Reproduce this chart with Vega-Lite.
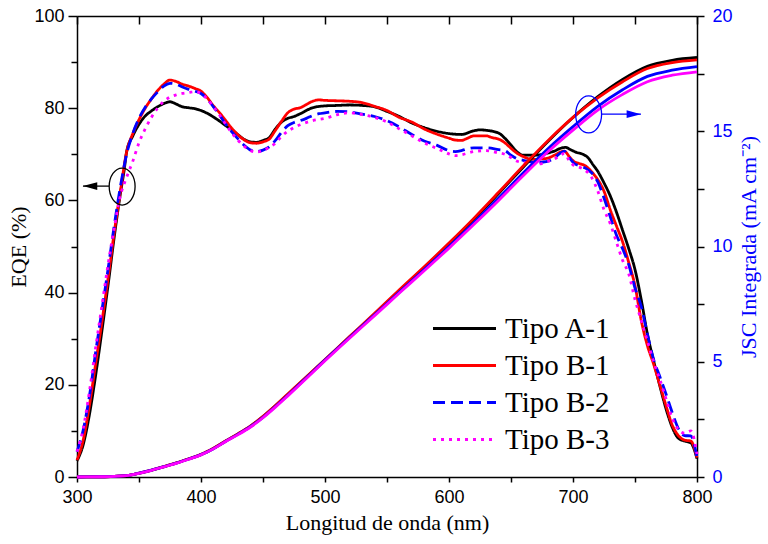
{
  "$schema": "https://vega.github.io/schema/vega-lite/v6.json",
  "width": 620,
  "height": 461,
  "autosize": "none",
  "padding": {"left": 77, "top": 16, "right": 71, "bottom": 67},
  "background": "white",
  "datasets": {
    "eqe": [
      {"s":"Tipo A-1","w":300,"v":3.5},{"s":"Tipo A-1","w":305,"v":7.0},{"s":"Tipo A-1","w":310,"v":13.5},{"s":"Tipo A-1","w":315,"v":22},{"s":"Tipo A-1","w":320,"v":31.5},{"s":"Tipo A-1","w":325,"v":41.5},{"s":"Tipo A-1","w":330,"v":52},{"s":"Tipo A-1","w":335,"v":61.5},{"s":"Tipo A-1","w":338,"v":66.5},{"s":"Tipo A-1","w":340,"v":70.5},{"s":"Tipo A-1","w":345,"v":74},{"s":"Tipo A-1","w":350,"v":76.5},{"s":"Tipo A-1","w":355,"v":78.3},{"s":"Tipo A-1","w":360,"v":79.4},{"s":"Tipo A-1","w":365,"v":80.3},{"s":"Tipo A-1","w":370,"v":81},{"s":"Tipo A-1","w":375,"v":81.4},{"s":"Tipo A-1","w":380,"v":80.9},{"s":"Tipo A-1","w":385,"v":80.3},{"s":"Tipo A-1","w":390,"v":80.1},{"s":"Tipo A-1","w":395,"v":79.9},{"s":"Tipo A-1","w":400,"v":79.5},{"s":"Tipo A-1","w":405,"v":78.9},{"s":"Tipo A-1","w":410,"v":78.1},{"s":"Tipo A-1","w":415,"v":77.2},{"s":"Tipo A-1","w":420,"v":76.2},{"s":"Tipo A-1","w":425,"v":75.3},{"s":"Tipo A-1","w":430,"v":74.2},{"s":"Tipo A-1","w":435,"v":73.2},{"s":"Tipo A-1","w":440,"v":72.7},{"s":"Tipo A-1","w":445,"v":72.6},{"s":"Tipo A-1","w":450,"v":73},{"s":"Tipo A-1","w":455,"v":73.6},{"s":"Tipo A-1","w":460,"v":75.5},{"s":"Tipo A-1","w":465,"v":77},{"s":"Tipo A-1","w":470,"v":77.8},{"s":"Tipo A-1","w":475,"v":78.2},{"s":"Tipo A-1","w":480,"v":78.8},{"s":"Tipo A-1","w":490,"v":80.1},{"s":"Tipo A-1","w":500,"v":80.5},{"s":"Tipo A-1","w":510,"v":80.6},{"s":"Tipo A-1","w":520,"v":80.7},{"s":"Tipo A-1","w":530,"v":80.6},{"s":"Tipo A-1","w":540,"v":80.3},{"s":"Tipo A-1","w":550,"v":79.3},{"s":"Tipo A-1","w":560,"v":78.2},{"s":"Tipo A-1","w":570,"v":76.8},{"s":"Tipo A-1","w":580,"v":75.8},{"s":"Tipo A-1","w":590,"v":75},{"s":"Tipo A-1","w":600,"v":74.5},{"s":"Tipo A-1","w":610,"v":74.3},{"s":"Tipo A-1","w":620,"v":75.1},{"s":"Tipo A-1","w":625,"v":75.3},{"s":"Tipo A-1","w":630,"v":75.2},{"s":"Tipo A-1","w":640,"v":74.6},{"s":"Tipo A-1","w":645,"v":73.5},{"s":"Tipo A-1","w":650,"v":72},{"s":"Tipo A-1","w":655,"v":70.5},{"s":"Tipo A-1","w":660,"v":69.8},{"s":"Tipo A-1","w":670,"v":69.8},{"s":"Tipo A-1","w":680,"v":70.3},{"s":"Tipo A-1","w":685,"v":70.7},{"s":"Tipo A-1","w":690,"v":71.3},{"s":"Tipo A-1","w":694,"v":71.5},{"s":"Tipo A-1","w":698,"v":71},{"s":"Tipo A-1","w":703,"v":70.4},{"s":"Tipo A-1","w":708,"v":70},{"s":"Tipo A-1","w":712,"v":69.3},{"s":"Tipo A-1","w":716,"v":67.8},{"s":"Tipo A-1","w":720,"v":66.3},{"s":"Tipo A-1","w":725,"v":63.8},{"s":"Tipo A-1","w":730,"v":61},{"s":"Tipo A-1","w":735,"v":57.5},{"s":"Tipo A-1","w":740,"v":53.5},{"s":"Tipo A-1","w":745,"v":49.5},{"s":"Tipo A-1","w":750,"v":45},{"s":"Tipo A-1","w":755,"v":38.5},{"s":"Tipo A-1","w":760,"v":31},{"s":"Tipo A-1","w":765,"v":25.2},{"s":"Tipo A-1","w":770,"v":19.8},{"s":"Tipo A-1","w":775,"v":14.8},{"s":"Tipo A-1","w":780,"v":10.8},{"s":"Tipo A-1","w":785,"v":8.4},{"s":"Tipo A-1","w":790,"v":7.8},{"s":"Tipo A-1","w":795,"v":7.4},{"s":"Tipo A-1","w":800,"v":4.0},
      {"s":"Tipo B-1","w":300,"v":3.7},{"s":"Tipo B-1","w":305,"v":8},{"s":"Tipo B-1","w":310,"v":15.5},{"s":"Tipo B-1","w":315,"v":24.5},{"s":"Tipo B-1","w":320,"v":33.5},{"s":"Tipo B-1","w":325,"v":43},{"s":"Tipo B-1","w":330,"v":53},{"s":"Tipo B-1","w":335,"v":62},{"s":"Tipo B-1","w":340,"v":70.5},{"s":"Tipo B-1","w":345,"v":74.5},{"s":"Tipo B-1","w":350,"v":77.5},{"s":"Tipo B-1","w":355,"v":80},{"s":"Tipo B-1","w":360,"v":82},{"s":"Tipo B-1","w":365,"v":83.8},{"s":"Tipo B-1","w":370,"v":85.2},{"s":"Tipo B-1","w":375,"v":86.1},{"s":"Tipo B-1","w":380,"v":85.8},{"s":"Tipo B-1","w":385,"v":85.2},{"s":"Tipo B-1","w":390,"v":84.8},{"s":"Tipo B-1","w":395,"v":84.3},{"s":"Tipo B-1","w":400,"v":83.7},{"s":"Tipo B-1","w":405,"v":82.3},{"s":"Tipo B-1","w":410,"v":80.5},{"s":"Tipo B-1","w":415,"v":79},{"s":"Tipo B-1","w":420,"v":77.3},{"s":"Tipo B-1","w":425,"v":75.6},{"s":"Tipo B-1","w":430,"v":74.2},{"s":"Tipo B-1","w":435,"v":73.1},{"s":"Tipo B-1","w":440,"v":72.5},{"s":"Tipo B-1","w":445,"v":72.4},{"s":"Tipo B-1","w":450,"v":72.7},{"s":"Tipo B-1","w":455,"v":73.3},{"s":"Tipo B-1","w":460,"v":75.2},{"s":"Tipo B-1","w":465,"v":77.2},{"s":"Tipo B-1","w":470,"v":79},{"s":"Tipo B-1","w":475,"v":79.8},{"s":"Tipo B-1","w":480,"v":80.1},{"s":"Tipo B-1","w":485,"v":80.8},{"s":"Tipo B-1","w":490,"v":81.5},{"s":"Tipo B-1","w":495,"v":81.8},{"s":"Tipo B-1","w":500,"v":81.7},{"s":"Tipo B-1","w":510,"v":81.6},{"s":"Tipo B-1","w":520,"v":81.5},{"s":"Tipo B-1","w":530,"v":81.2},{"s":"Tipo B-1","w":540,"v":80.4},{"s":"Tipo B-1","w":550,"v":79.5},{"s":"Tipo B-1","w":560,"v":78},{"s":"Tipo B-1","w":570,"v":77},{"s":"Tipo B-1","w":580,"v":75.5},{"s":"Tipo B-1","w":590,"v":74.4},{"s":"Tipo B-1","w":600,"v":73.5},{"s":"Tipo B-1","w":605,"v":73.1},{"s":"Tipo B-1","w":610,"v":73},{"s":"Tipo B-1","w":615,"v":73.5},{"s":"Tipo B-1","w":620,"v":74},{"s":"Tipo B-1","w":630,"v":74},{"s":"Tipo B-1","w":635,"v":73.6},{"s":"Tipo B-1","w":640,"v":73.3},{"s":"Tipo B-1","w":645,"v":72.5},{"s":"Tipo B-1","w":650,"v":71.3},{"s":"Tipo B-1","w":655,"v":70.2},{"s":"Tipo B-1","w":660,"v":69.5},{"s":"Tipo B-1","w":665,"v":69},{"s":"Tipo B-1","w":670,"v":68.9},{"s":"Tipo B-1","w":675,"v":69},{"s":"Tipo B-1","w":680,"v":69.2},{"s":"Tipo B-1","w":685,"v":69.8},{"s":"Tipo B-1","w":690,"v":70.5},{"s":"Tipo B-1","w":693,"v":70.7},{"s":"Tipo B-1","w":697,"v":69.5},{"s":"Tipo B-1","w":701,"v":68.4},{"s":"Tipo B-1","w":705,"v":68},{"s":"Tipo B-1","w":710,"v":67.5},{"s":"Tipo B-1","w":715,"v":66.2},{"s":"Tipo B-1","w":720,"v":64.5},{"s":"Tipo B-1","w":725,"v":62},{"s":"Tipo B-1","w":730,"v":58},{"s":"Tipo B-1","w":735,"v":54.5},{"s":"Tipo B-1","w":740,"v":51},{"s":"Tipo B-1","w":745,"v":46.5},{"s":"Tipo B-1","w":750,"v":41.5},{"s":"Tipo B-1","w":755,"v":34},{"s":"Tipo B-1","w":760,"v":28.5},{"s":"Tipo B-1","w":765,"v":24.5},{"s":"Tipo B-1","w":770,"v":20},{"s":"Tipo B-1","w":775,"v":15.5},{"s":"Tipo B-1","w":780,"v":11.3},{"s":"Tipo B-1","w":785,"v":9},{"s":"Tipo B-1","w":790,"v":8},{"s":"Tipo B-1","w":795,"v":7.8},{"s":"Tipo B-1","w":800,"v":4.2},
      {"s":"Tipo B-2","w":300,"v":5.5},{"s":"Tipo B-2","w":305,"v":10.2},{"s":"Tipo B-2","w":310,"v":17.5},{"s":"Tipo B-2","w":315,"v":27},{"s":"Tipo B-2","w":320,"v":36},{"s":"Tipo B-2","w":325,"v":45},{"s":"Tipo B-2","w":330,"v":54.5},{"s":"Tipo B-2","w":335,"v":63},{"s":"Tipo B-2","w":340,"v":70},{"s":"Tipo B-2","w":345,"v":74.5},{"s":"Tipo B-2","w":350,"v":77.8},{"s":"Tipo B-2","w":355,"v":80.2},{"s":"Tipo B-2","w":360,"v":82},{"s":"Tipo B-2","w":365,"v":83.5},{"s":"Tipo B-2","w":370,"v":84.8},{"s":"Tipo B-2","w":375,"v":85.4},{"s":"Tipo B-2","w":380,"v":85.2},{"s":"Tipo B-2","w":385,"v":84.6},{"s":"Tipo B-2","w":390,"v":84.1},{"s":"Tipo B-2","w":395,"v":83.7},{"s":"Tipo B-2","w":400,"v":83.2},{"s":"Tipo B-2","w":405,"v":82},{"s":"Tipo B-2","w":410,"v":80.3},{"s":"Tipo B-2","w":415,"v":78.5},{"s":"Tipo B-2","w":420,"v":76.5},{"s":"Tipo B-2","w":425,"v":74.8},{"s":"Tipo B-2","w":430,"v":73.3},{"s":"Tipo B-2","w":435,"v":71.9},{"s":"Tipo B-2","w":440,"v":70.9},{"s":"Tipo B-2","w":445,"v":70.6},{"s":"Tipo B-2","w":450,"v":70.9},{"s":"Tipo B-2","w":455,"v":71.6},{"s":"Tipo B-2","w":460,"v":73},{"s":"Tipo B-2","w":465,"v":74.8},{"s":"Tipo B-2","w":470,"v":76.2},{"s":"Tipo B-2","w":475,"v":76.9},{"s":"Tipo B-2","w":480,"v":77.3},{"s":"Tipo B-2","w":485,"v":77.8},{"s":"Tipo B-2","w":490,"v":78.4},{"s":"Tipo B-2","w":495,"v":78.8},{"s":"Tipo B-2","w":500,"v":79},{"s":"Tipo B-2","w":510,"v":79.3},{"s":"Tipo B-2","w":520,"v":79.2},{"s":"Tipo B-2","w":530,"v":78.7},{"s":"Tipo B-2","w":540,"v":78.2},{"s":"Tipo B-2","w":550,"v":77.3},{"s":"Tipo B-2","w":560,"v":75.9},{"s":"Tipo B-2","w":570,"v":74.3},{"s":"Tipo B-2","w":580,"v":72.9},{"s":"Tipo B-2","w":590,"v":72},{"s":"Tipo B-2","w":600,"v":70.8},{"s":"Tipo B-2","w":605,"v":70.6},{"s":"Tipo B-2","w":610,"v":70.8},{"s":"Tipo B-2","w":615,"v":71.2},{"s":"Tipo B-2","w":620,"v":71.4},{"s":"Tipo B-2","w":630,"v":71.4},{"s":"Tipo B-2","w":640,"v":71},{"s":"Tipo B-2","w":645,"v":70.8},{"s":"Tipo B-2","w":650,"v":69.8},{"s":"Tipo B-2","w":655,"v":69},{"s":"Tipo B-2","w":660,"v":68.7},{"s":"Tipo B-2","w":665,"v":68.4},{"s":"Tipo B-2","w":670,"v":68.2},{"s":"Tipo B-2","w":675,"v":68.3},{"s":"Tipo B-2","w":680,"v":68.5},{"s":"Tipo B-2","w":685,"v":69.2},{"s":"Tipo B-2","w":690,"v":70.3},{"s":"Tipo B-2","w":693,"v":70.7},{"s":"Tipo B-2","w":697,"v":69.3},{"s":"Tipo B-2","w":701,"v":68},{"s":"Tipo B-2","w":705,"v":67.5},{"s":"Tipo B-2","w":710,"v":67},{"s":"Tipo B-2","w":715,"v":66},{"s":"Tipo B-2","w":720,"v":64},{"s":"Tipo B-2","w":725,"v":60.5},{"s":"Tipo B-2","w":730,"v":56.5},{"s":"Tipo B-2","w":735,"v":52.5},{"s":"Tipo B-2","w":740,"v":49.5},{"s":"Tipo B-2","w":745,"v":46},{"s":"Tipo B-2","w":750,"v":41},{"s":"Tipo B-2","w":755,"v":37},{"s":"Tipo B-2","w":760,"v":31},{"s":"Tipo B-2","w":765,"v":25.5},{"s":"Tipo B-2","w":770,"v":21.8},{"s":"Tipo B-2","w":775,"v":18},{"s":"Tipo B-2","w":780,"v":14},{"s":"Tipo B-2","w":785,"v":10.5},{"s":"Tipo B-2","w":790,"v":9},{"s":"Tipo B-2","w":795,"v":8.9},{"s":"Tipo B-2","w":800,"v":4.2},
      {"s":"Tipo B-3","w":300,"v":5.5},{"s":"Tipo B-3","w":305,"v":10.5},{"s":"Tipo B-3","w":310,"v":18.5},{"s":"Tipo B-3","w":315,"v":28},{"s":"Tipo B-3","w":320,"v":37},{"s":"Tipo B-3","w":325,"v":46},{"s":"Tipo B-3","w":330,"v":54},{"s":"Tipo B-3","w":335,"v":61},{"s":"Tipo B-3","w":340,"v":65},{"s":"Tipo B-3","w":345,"v":68.5},{"s":"Tipo B-3","w":350,"v":72.5},{"s":"Tipo B-3","w":355,"v":75.5},{"s":"Tipo B-3","w":360,"v":78},{"s":"Tipo B-3","w":365,"v":80},{"s":"Tipo B-3","w":370,"v":81.5},{"s":"Tipo B-3","w":375,"v":82.4},{"s":"Tipo B-3","w":380,"v":82.9},{"s":"Tipo B-3","w":385,"v":83.2},{"s":"Tipo B-3","w":390,"v":83.4},{"s":"Tipo B-3","w":395,"v":83.6},{"s":"Tipo B-3","w":400,"v":83.2},{"s":"Tipo B-3","w":405,"v":82},{"s":"Tipo B-3","w":410,"v":80.3},{"s":"Tipo B-3","w":415,"v":78.5},{"s":"Tipo B-3","w":420,"v":76.5},{"s":"Tipo B-3","w":425,"v":74.6},{"s":"Tipo B-3","w":430,"v":73},{"s":"Tipo B-3","w":435,"v":71.7},{"s":"Tipo B-3","w":440,"v":70.8},{"s":"Tipo B-3","w":445,"v":70.5},{"s":"Tipo B-3","w":450,"v":70.8},{"s":"Tipo B-3","w":455,"v":71.5},{"s":"Tipo B-3","w":460,"v":72.4},{"s":"Tipo B-3","w":465,"v":73.9},{"s":"Tipo B-3","w":470,"v":75},{"s":"Tipo B-3","w":475,"v":75.8},{"s":"Tipo B-3","w":480,"v":76.4},{"s":"Tipo B-3","w":490,"v":77.3},{"s":"Tipo B-3","w":500,"v":77.8},{"s":"Tipo B-3","w":510,"v":78.6},{"s":"Tipo B-3","w":520,"v":79},{"s":"Tipo B-3","w":530,"v":78.6},{"s":"Tipo B-3","w":540,"v":78},{"s":"Tipo B-3","w":550,"v":77},{"s":"Tipo B-3","w":560,"v":75.5},{"s":"Tipo B-3","w":570,"v":74},{"s":"Tipo B-3","w":580,"v":72.5},{"s":"Tipo B-3","w":590,"v":71.3},{"s":"Tipo B-3","w":600,"v":70.1},{"s":"Tipo B-3","w":605,"v":69.7},{"s":"Tipo B-3","w":610,"v":69.9},{"s":"Tipo B-3","w":620,"v":70.6},{"s":"Tipo B-3","w":630,"v":70.8},{"s":"Tipo B-3","w":640,"v":70.3},{"s":"Tipo B-3","w":645,"v":70},{"s":"Tipo B-3","w":650,"v":69.3},{"s":"Tipo B-3","w":655,"v":68.5},{"s":"Tipo B-3","w":660,"v":68.2},{"s":"Tipo B-3","w":670,"v":67.9},{"s":"Tipo B-3","w":675,"v":68},{"s":"Tipo B-3","w":680,"v":68.5},{"s":"Tipo B-3","w":685,"v":69},{"s":"Tipo B-3","w":690,"v":69.8},{"s":"Tipo B-3","w":693,"v":70.2},{"s":"Tipo B-3","w":697,"v":68.6},{"s":"Tipo B-3","w":701,"v":67.5},{"s":"Tipo B-3","w":705,"v":67.2},{"s":"Tipo B-3","w":710,"v":66.5},{"s":"Tipo B-3","w":715,"v":65},{"s":"Tipo B-3","w":720,"v":62},{"s":"Tipo B-3","w":725,"v":58},{"s":"Tipo B-3","w":730,"v":55},{"s":"Tipo B-3","w":735,"v":51},{"s":"Tipo B-3","w":740,"v":47},{"s":"Tipo B-3","w":745,"v":44},{"s":"Tipo B-3","w":750,"v":38.5},{"s":"Tipo B-3","w":755,"v":34},{"s":"Tipo B-3","w":760,"v":29.5},{"s":"Tipo B-3","w":765,"v":25},{"s":"Tipo B-3","w":770,"v":21.2},{"s":"Tipo B-3","w":775,"v":17},{"s":"Tipo B-3","w":780,"v":12.8},{"s":"Tipo B-3","w":785,"v":10.3},{"s":"Tipo B-3","w":790,"v":9.5},{"s":"Tipo B-3","w":795,"v":10},{"s":"Tipo B-3","w":800,"v":5}
    ],
    "jsc": [
      {"s":"Tipo A-1","w":300,"j":0},{"s":"Tipo A-1","w":320,"j":0.01},{"s":"Tipo A-1","w":330,"j":0.03},{"s":"Tipo A-1","w":340,"j":0.06},{"s":"Tipo A-1","w":350,"j":0.16},{"s":"Tipo A-1","w":360,"j":0.29},{"s":"Tipo A-1","w":370,"j":0.44},{"s":"Tipo A-1","w":380,"j":0.6},{"s":"Tipo A-1","w":390,"j":0.78},{"s":"Tipo A-1","w":400,"j":0.97},{"s":"Tipo A-1","w":410,"j":1.24},{"s":"Tipo A-1","w":420,"j":1.56},{"s":"Tipo A-1","w":430,"j":1.87},{"s":"Tipo A-1","w":440,"j":2.21},{"s":"Tipo A-1","w":450,"j":2.62},{"s":"Tipo A-1","w":460,"j":3.09},{"s":"Tipo A-1","w":470,"j":3.58},{"s":"Tipo A-1","w":480,"j":4.08},{"s":"Tipo A-1","w":490,"j":4.58},{"s":"Tipo A-1","w":500,"j":5.08},{"s":"Tipo A-1","w":520,"j":6.08},{"s":"Tipo A-1","w":540,"j":7.07},{"s":"Tipo A-1","w":560,"j":8.08},{"s":"Tipo A-1","w":580,"j":9.08},{"s":"Tipo A-1","w":600,"j":10.1},{"s":"Tipo A-1","w":620,"j":11.17},{"s":"Tipo A-1","w":640,"j":12.3},{"s":"Tipo A-1","w":660,"j":13.45},{"s":"Tipo A-1","w":680,"j":14.57},{"s":"Tipo A-1","w":700,"j":15.6},{"s":"Tipo A-1","w":720,"j":16.5},{"s":"Tipo A-1","w":740,"j":17.25},{"s":"Tipo A-1","w":760,"j":17.82},{"s":"Tipo A-1","w":780,"j":18.08},{"s":"Tipo A-1","w":800,"j":18.2},
      {"s":"Tipo B-1","w":300,"j":0},{"s":"Tipo B-1","w":320,"j":0.01},{"s":"Tipo B-1","w":330,"j":0.03},{"s":"Tipo B-1","w":340,"j":0.06},{"s":"Tipo B-1","w":350,"j":0.17},{"s":"Tipo B-1","w":360,"j":0.3},{"s":"Tipo B-1","w":370,"j":0.45},{"s":"Tipo B-1","w":380,"j":0.61},{"s":"Tipo B-1","w":390,"j":0.79},{"s":"Tipo B-1","w":400,"j":0.98},{"s":"Tipo B-1","w":410,"j":1.25},{"s":"Tipo B-1","w":420,"j":1.57},{"s":"Tipo B-1","w":430,"j":1.88},{"s":"Tipo B-1","w":440,"j":2.22},{"s":"Tipo B-1","w":450,"j":2.63},{"s":"Tipo B-1","w":460,"j":3.1},{"s":"Tipo B-1","w":470,"j":3.6},{"s":"Tipo B-1","w":480,"j":4.1},{"s":"Tipo B-1","w":490,"j":4.6},{"s":"Tipo B-1","w":500,"j":5.1},{"s":"Tipo B-1","w":520,"j":6.1},{"s":"Tipo B-1","w":540,"j":7.1},{"s":"Tipo B-1","w":560,"j":8.12},{"s":"Tipo B-1","w":580,"j":9.12},{"s":"Tipo B-1","w":600,"j":10.15},{"s":"Tipo B-1","w":620,"j":11.22},{"s":"Tipo B-1","w":640,"j":12.35},{"s":"Tipo B-1","w":660,"j":13.5},{"s":"Tipo B-1","w":680,"j":14.6},{"s":"Tipo B-1","w":700,"j":15.6},{"s":"Tipo B-1","w":720,"j":16.45},{"s":"Tipo B-1","w":740,"j":17.15},{"s":"Tipo B-1","w":760,"j":17.72},{"s":"Tipo B-1","w":780,"j":17.98},{"s":"Tipo B-1","w":800,"j":18.1},
      {"s":"Tipo B-2","w":300,"j":0},{"s":"Tipo B-2","w":320,"j":0.01},{"s":"Tipo B-2","w":330,"j":0.03},{"s":"Tipo B-2","w":340,"j":0.06},{"s":"Tipo B-2","w":350,"j":0.17},{"s":"Tipo B-2","w":360,"j":0.3},{"s":"Tipo B-2","w":370,"j":0.45},{"s":"Tipo B-2","w":380,"j":0.6},{"s":"Tipo B-2","w":390,"j":0.78},{"s":"Tipo B-2","w":400,"j":0.97},{"s":"Tipo B-2","w":410,"j":1.23},{"s":"Tipo B-2","w":420,"j":1.55},{"s":"Tipo B-2","w":430,"j":1.86},{"s":"Tipo B-2","w":440,"j":2.19},{"s":"Tipo B-2","w":450,"j":2.59},{"s":"Tipo B-2","w":460,"j":3.06},{"s":"Tipo B-2","w":470,"j":3.55},{"s":"Tipo B-2","w":480,"j":4.05},{"s":"Tipo B-2","w":490,"j":4.56},{"s":"Tipo B-2","w":500,"j":5.07},{"s":"Tipo B-2","w":520,"j":6.06},{"s":"Tipo B-2","w":540,"j":7.04},{"s":"Tipo B-2","w":560,"j":8.02},{"s":"Tipo B-2","w":580,"j":9.0},{"s":"Tipo B-2","w":600,"j":10.0},{"s":"Tipo B-2","w":620,"j":11.03},{"s":"Tipo B-2","w":640,"j":12.1},{"s":"Tipo B-2","w":660,"j":13.2},{"s":"Tipo B-2","w":680,"j":14.25},{"s":"Tipo B-2","w":700,"j":15.2},{"s":"Tipo B-2","w":720,"j":16.08},{"s":"Tipo B-2","w":740,"j":16.8},{"s":"Tipo B-2","w":760,"j":17.38},{"s":"Tipo B-2","w":780,"j":17.65},{"s":"Tipo B-2","w":800,"j":17.8},
      {"s":"Tipo B-3","w":300,"j":0},{"s":"Tipo B-3","w":320,"j":0.01},{"s":"Tipo B-3","w":330,"j":0.03},{"s":"Tipo B-3","w":340,"j":0.06},{"s":"Tipo B-3","w":350,"j":0.16},{"s":"Tipo B-3","w":360,"j":0.29},{"s":"Tipo B-3","w":370,"j":0.44},{"s":"Tipo B-3","w":380,"j":0.59},{"s":"Tipo B-3","w":390,"j":0.77},{"s":"Tipo B-3","w":400,"j":0.96},{"s":"Tipo B-3","w":410,"j":1.22},{"s":"Tipo B-3","w":420,"j":1.54},{"s":"Tipo B-3","w":430,"j":1.84},{"s":"Tipo B-3","w":440,"j":2.17},{"s":"Tipo B-3","w":450,"j":2.57},{"s":"Tipo B-3","w":460,"j":3.03},{"s":"Tipo B-3","w":470,"j":3.52},{"s":"Tipo B-3","w":480,"j":4.02},{"s":"Tipo B-3","w":490,"j":4.53},{"s":"Tipo B-3","w":500,"j":5.04},{"s":"Tipo B-3","w":520,"j":6.03},{"s":"Tipo B-3","w":540,"j":7.0},{"s":"Tipo B-3","w":560,"j":7.98},{"s":"Tipo B-3","w":580,"j":8.95},{"s":"Tipo B-3","w":600,"j":9.93},{"s":"Tipo B-3","w":620,"j":10.95},{"s":"Tipo B-3","w":640,"j":12.0},{"s":"Tipo B-3","w":660,"j":13.08},{"s":"Tipo B-3","w":680,"j":14.12},{"s":"Tipo B-3","w":700,"j":15.05},{"s":"Tipo B-3","w":720,"j":15.92},{"s":"Tipo B-3","w":740,"j":16.6},{"s":"Tipo B-3","w":760,"j":17.15},{"s":"Tipo B-3","w":780,"j":17.43},{"s":"Tipo B-3","w":800,"j":17.58}
    ],
    "leftMark": [{"w":336.4,"v":63.0}],
    "leftArrow": [{"w":304.8,"w2":325.8,"v":63.1}],
    "rightMark": [{"w":712.6,"j":15.73}],
    "rightArrow": [{"w":723.1,"w2":754.8,"j":15.74}]
  },
  "layer": [
    {
      "data": {"name": "eqe"},
      "mark": {"type": "line", "strokeWidth": 2.8, "interpolate": "monotone"},
      "encoding": {
        "x": {"field": "w", "type": "quantitative", "scale": {"domain": [300, 800], "nice": false},
          "axis": {"orient": "bottom", "values": [300,350,400,450,500,550,600,650,700,750,800], "labelExpr": "datum.value % 100 === 0 ? datum.label : ''", "tickSize": 5, "labelPadding": 6, "title": "Longitud de onda (nm)", "titlePadding": 6}},
        "y": {"field": "v", "type": "quantitative", "scale": {"domain": [0, 100], "nice": false},
          "axis": {"orient": "left", "values": [0,10,20,30,40,50,60,70,80,90,100], "labelExpr": "datum.value % 20 === 0 ? datum.label : ''", "tickSize": {"condition": {"test": "datum.value % 20 === 0", "value": 9}, "value": 6}, "labelPadding": 4, "title": "EQE (%)", "titlePadding": 3}},
        "color": {"field": "s", "type": "nominal", "scale": {"domain": ["Tipo A-1","Tipo B-1","Tipo B-2","Tipo B-3"], "range": ["#000000","#FF0000","#0000FF","#FF00FF"]},
          "legend": {"title": null, "orient": "none", "legendX": 373, "legendY": 298, "symbolType": "M-3,0H3", "symbolSize": 441, "labelOffset": 26, "labelFont": "Liberation Serif", "labelFontSize": 29, "rowPadding": 7, "symbolStrokeWidth": 3}},
        "strokeDash": {"field": "s", "type": "nominal", "scale": {"domain": ["Tipo A-1","Tipo B-1","Tipo B-2","Tipo B-3"], "range": [[1,0],[1,0],[12,6],[3,5]]},
          "legend": {"title": null, "orient": "none", "legendX": 373, "legendY": 298, "symbolType": "M-3,0H3", "symbolSize": 441, "labelOffset": 26, "labelFont": "Liberation Serif", "labelFontSize": 29, "rowPadding": 7, "symbolStrokeWidth": 3}}
      }
    },
    {
      "data": {"name": "jsc"},
      "mark": {"type": "line", "strokeWidth": 2.8, "interpolate": "monotone"},
      "encoding": {
        "x": {"field": "w", "type": "quantitative", "scale": {"domain": [300, 800], "nice": false},
          "axis": {"orient": "top", "values": [300,350,400,450,500,550,600,650,700,750,800], "labels": false, "tickSize": -8, "title": null}},
        "y": {"field": "j", "type": "quantitative", "scale": {"domain": [0, 20], "nice": false},
          "axis": {"orient": "right", "values": [0,2.5,5,7.5,10,12.5,15,17.5,20], "labelExpr": "datum.value % 5 === 0 ? datum.label : ''", "tickSize": 7, "labelPadding": 8, "labelColor": "#0000FF", "title": "JSC Integrada (mA cm⁻²)", "titleFont": "Liberation Serif", "titleFontSize": 22, "titleColor": "#0000FF", "titleAngle": 270, "titleBaseline": "top", "titlePadding": 6}},
        "color": {"field": "s", "type": "nominal", "scale": {"domain": ["Tipo A-1","Tipo B-1","Tipo B-2","Tipo B-3"], "range": ["#000000","#FF0000","#0000FF","#FF00FF"]}}
      }
    },
    {
      "data": {"name": "leftMark"},
      "mark": {"type": "point", "shape": "M0,-1A0.7,1,0,1,1,0,1A0.7,1,0,1,1,0,-1Z", "size": 1369, "filled": false, "color": "black", "strokeWidth": 1.3, "opacity": 1},
      "encoding": {
        "x": {"field": "w", "type": "quantitative", "scale": {"domain": [300, 800], "nice": false}, "axis": null},
        "y": {"field": "v", "type": "quantitative", "scale": {"domain": [0, 100], "nice": false}, "axis": null}
      }
    },
    {
      "data": {"name": "leftArrow"},
      "mark": {"type": "rule", "color": "black", "strokeWidth": 1.3},
      "encoding": {
        "x": {"field": "w", "type": "quantitative", "scale": {"domain": [300, 800], "nice": false}, "axis": null},
        "x2": {"field": "w2"},
        "y": {"field": "v", "type": "quantitative", "scale": {"domain": [0, 100], "nice": false}, "axis": null}
      }
    },
    {
      "data": {"name": "leftArrow"},
      "mark": {"type": "point", "shape": "M0,0L2.2,-0.6L2.2,0.6Z", "size": 169, "filled": true, "color": "black", "opacity": 1, "strokeWidth": 0},
      "encoding": {
        "x": {"field": "w", "type": "quantitative", "scale": {"domain": [300, 800], "nice": false}, "axis": null},
        "y": {"field": "v", "type": "quantitative", "scale": {"domain": [0, 100], "nice": false}, "axis": null}
      }
    },
    {
      "data": {"name": "rightMark"},
      "mark": {"type": "point", "shape": "M0,-1A0.7,1,0,1,1,0,1A0.7,1,0,1,1,0,-1Z", "size": 1369, "filled": false, "color": "#0000FF", "strokeWidth": 1.3, "opacity": 1},
      "encoding": {
        "x": {"field": "w", "type": "quantitative", "scale": {"domain": [300, 800], "nice": false}, "axis": null},
        "y": {"field": "j", "type": "quantitative", "scale": {"domain": [0, 20], "nice": false}, "axis": null}
      }
    },
    {
      "data": {"name": "rightArrow"},
      "mark": {"type": "rule", "color": "#0000FF", "strokeWidth": 1.3},
      "encoding": {
        "x": {"field": "w", "type": "quantitative", "scale": {"domain": [300, 800], "nice": false}, "axis": null},
        "x2": {"field": "w2"},
        "y": {"field": "j", "type": "quantitative", "scale": {"domain": [0, 20], "nice": false}, "axis": null}
      }
    },
    {
      "data": {"name": "rightArrow"},
      "mark": {"type": "point", "shape": "M0,0L-2.2,-0.6L-2.2,0.6Z", "size": 169, "filled": true, "color": "#0000FF", "opacity": 1, "strokeWidth": 0},
      "encoding": {
        "x": {"field": "w2", "type": "quantitative", "scale": {"domain": [300, 800], "nice": false}, "axis": null},
        "y": {"field": "j", "type": "quantitative", "scale": {"domain": [0, 20], "nice": false}, "axis": null}
      }
    }
  ],
  "resolve": {"scale": {"y": "independent"}, "axis": {"x": "independent", "y": "independent"}},
  "config": {
    "view": {"stroke": null},
    "axis": {"domainColor": "black", "domainWidth": 1.5, "tickColor": "black", "tickWidth": 1.5, "labelFont": "Liberation Sans", "labelFontSize": 18, "labelColor": "black", "titleFont": "Liberation Serif", "titleFontSize": 22, "titleFontWeight": "normal", "titleColor": "black", "grid": false, "labelFlush": false, "labelOverlap": false},
    "legend": {"labelFont": "Liberation Serif", "labelFontSize": 29, "labelColor": "black", "symbolStrokeWidth": 3, "labelLimit": 300, "symbolOpacity": 1}
  }
}
